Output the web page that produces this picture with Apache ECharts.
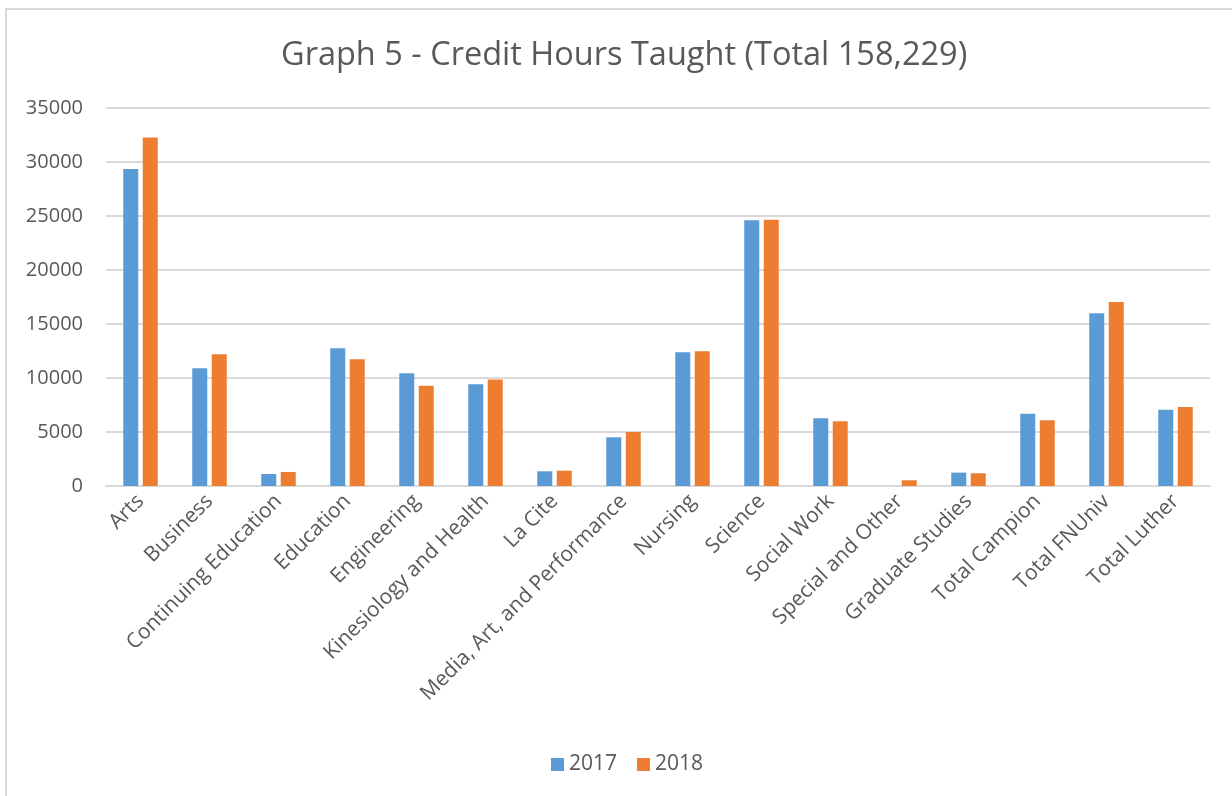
<!DOCTYPE html>
<html>
<head>
<meta charset="utf-8">
<script src="https://cdn.jsdelivr.net/npm/echarts@6/dist/echarts.min.js"></script>
<style>
    html, body { margin: 0; padding: 0; background: #fff; }
    #frame {
        position: absolute; left: 5px; top: 8px; width: 1240px; height: 800px;
        border-left: 2px solid #d9d9d9; border-top: 2px solid #d9d9d9;
        box-sizing: border-box;
    }
    #myChart { position: absolute; left: 0; top: 0; width: 1232px; height: 796px; }
</style>
</head>
<body>
<div id="frame"></div>
<div id="myChart"></div>
<script>
var categories = ['Arts', 'Business', 'Continuing Education', 'Education', 'Engineering',
    'Kinesiology and Health', 'La Cite', 'Media, Art, and Performance', 'Nursing', 'Science',
    'Social Work', 'Special and Other', 'Graduate Studies', 'Total Campion', 'Total FNUniv', 'Total Luther'];
var hours2017 = [29350, 10900, 1110, 12750, 10430, 9420, 1360, 4510, 12380, 24600, 6270, 0, 1240, 6700, 15990, 7070];
var hours2018 = [32260, 12190, 1300, 11730, 9290, 9850, 1420, 5000, 12470, 24660, 5990, 530, 1180, 6080, 17040, 7320];
var seriesNames = ['2017', '2018'];

var font = '"Open Sans", "Noto Sans", sans-serif';
var myChart = echarts.init(document.getElementById('myChart'));
var option = {
    animation: false,
    color: ['#5B9BD5', '#ED7D31'],
    title: {
        text: 'Graph 5 - Credit Hours Taught (Total 158,229)',
        left: 276,
        top: 34,
        textStyle: { fontFamily: font, fontSize: 32.5, fontWeight: 'normal', color: '#595959' }
    },
    legend: {
        data: seriesNames,
        bottom: 16,
        left: 546,
        icon: 'rect',
        itemWidth: 13,
        itemHeight: 13,
        itemGap: 20,
        textStyle: { fontFamily: font, fontSize: 21, color: '#595959' }
    },
    grid: { left: 106, right: 22, top: 108, bottom: 310 },
    xAxis: {
        type: 'category',
        data: categories,
        axisLine: { lineStyle: { color: '#d9d9d9', width: 2 } },
        axisTick: { show: false },
        axisLabel: {
            interval: 0,
            rotate: 45,
            margin: 12,
            fontFamily: font,
            fontSize: 21,
            color: '#595959'
        }
    },
    yAxis: {
        type: 'value',
        min: 0,
        max: 35000,
        interval: 5000,
        axisLine: { show: false },
        axisTick: { show: false },
        splitLine: { lineStyle: { color: '#d9d9d9', width: 2 } },
        axisLabel: {
            fontFamily: font, fontSize: 20, color: '#595959', margin: 23,
            formatter: function (v) { return String(v); }
        }
    },
    series: [
        {
            name: seriesNames[0],
            type: 'bar',
            data: hours2017,
            barWidth: 15,
            barGap: '30%'
        },
        {
            name: seriesNames[1],
            type: 'bar',
            data: hours2018,
            barWidth: 15,
            barGap: '30%'
        }
    ]
};
myChart.setOption(option);
</script>
</body>
</html>
